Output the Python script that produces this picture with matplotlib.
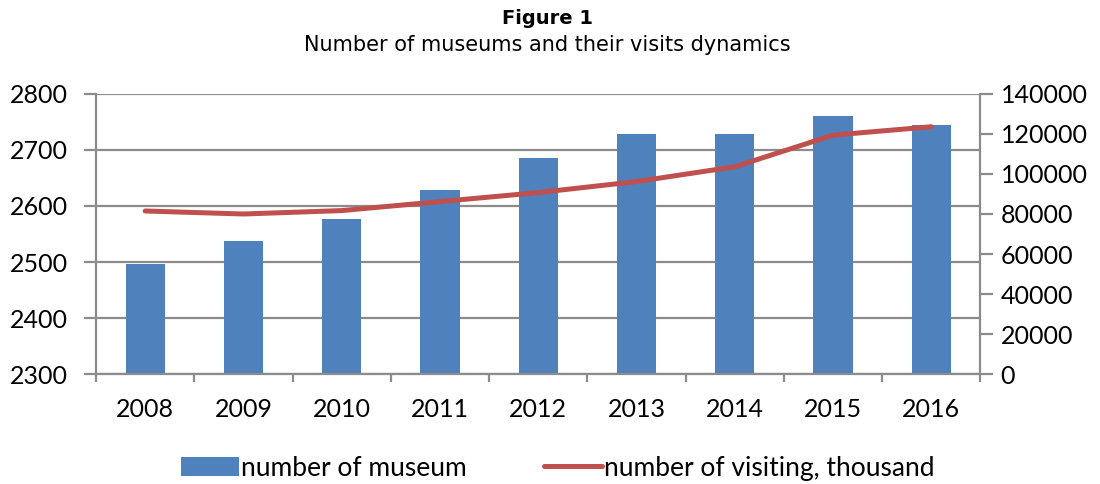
import matplotlib.pyplot as plt
import numpy as np

years = ["2008", "2009", "2010", "2011", "2012", "2013", "2014", "2015", "2016"]
museums = [2497, 2538, 2577, 2629, 2686, 2729, 2729, 2761, 2745]
visits = [81500, 80000, 81700, 86200, 90700, 96200, 103600, 119400, 123600]

bar_color = "#4F81BD"
line_color = "#C0504D"
grid_color = "#8C8C8C"
tick_font = "Lato"


def main():
    fig = plt.figure(figsize=(11, 4.84), dpi=100)
    ax1 = fig.add_axes([0.0873, 0.227, 0.804, 0.579])
    ax2 = ax1.twinx()

    x = np.arange(len(years))
    ax1.bar(x, museums, width=0.40, color=bar_color, zorder=2,
            label="number of museum")
    ax2.plot(x, visits, color=line_color, linewidth=3.6, solid_capstyle="round",
             solid_joinstyle="round", label="number of visiting, thousand")

    ax1.set_xlim(-0.5, len(years) - 0.5)
    ax1.set_ylim(2300, 2800)
    ax1.set_yticks(range(2300, 2801, 100))
    ax2.set_ylim(0, 140000)
    ax2.set_yticks(range(0, 140001, 20000))

    ax1.yaxis.grid(True, color=grid_color, linewidth=1.6, zorder=0)
    ax1.set_axisbelow(True)

    ax1.set_xticks(x)
    ax1.set_xticklabels(years, fontsize=18, family=tick_font)
    ax1.set_xticks(np.arange(-0.5, len(years)), minor=True)
    ax1.tick_params(axis="x", which="major", length=0, pad=17)
    ax1.tick_params(axis="x", which="minor", length=6, width=1.6, color=grid_color)

    for lab in ax1.get_yticklabels():
        lab.set_fontsize(18)
        lab.set_family(tick_font)
    for lab in ax2.get_yticklabels():
        lab.set_fontsize(18)
        lab.set_family(tick_font)
    ax1.tick_params(axis="y", length=9, width=1.6, color=grid_color, pad=11)
    ax2.tick_params(axis="y", length=9, width=1.6, color=grid_color, pad=5.5)

    for ax in (ax1, ax2):
        ax.spines["top"].set_visible(False)
        for s in ("left", "right", "bottom"):
            ax.spines[s].set_color(grid_color)
            ax.spines[s].set_linewidth(1.6)
    ax1.spines["right"].set_visible(False)
    ax2.spines["left"].set_visible(False)
    ax2.spines["bottom"].set_visible(False)

    fig.text(0.498, 0.962, "Figure 1", ha="center", va="center",
             fontsize=14, fontweight="bold", family="DejaVu Sans")
    fig.text(0.498, 0.906, "Number of museums and their visits dynamics",
             ha="center", va="center", fontsize=15, family="DejaVu Sans")

    h1, l1 = ax1.get_legend_handles_labels()
    h2, l2 = ax2.get_legend_handles_labels()
    fig.legend(h1 + h2, l1 + l2, loc="center", bbox_to_anchor=(0.507, 0.033),
               ncol=2, frameon=False, prop={"family": tick_font, "size": 19},
               handlelength=2.2, handletextpad=0.1, columnspacing=2.9)

    fig.savefig("out.png", dpi=100)


if __name__ == "__main__":
    main()
